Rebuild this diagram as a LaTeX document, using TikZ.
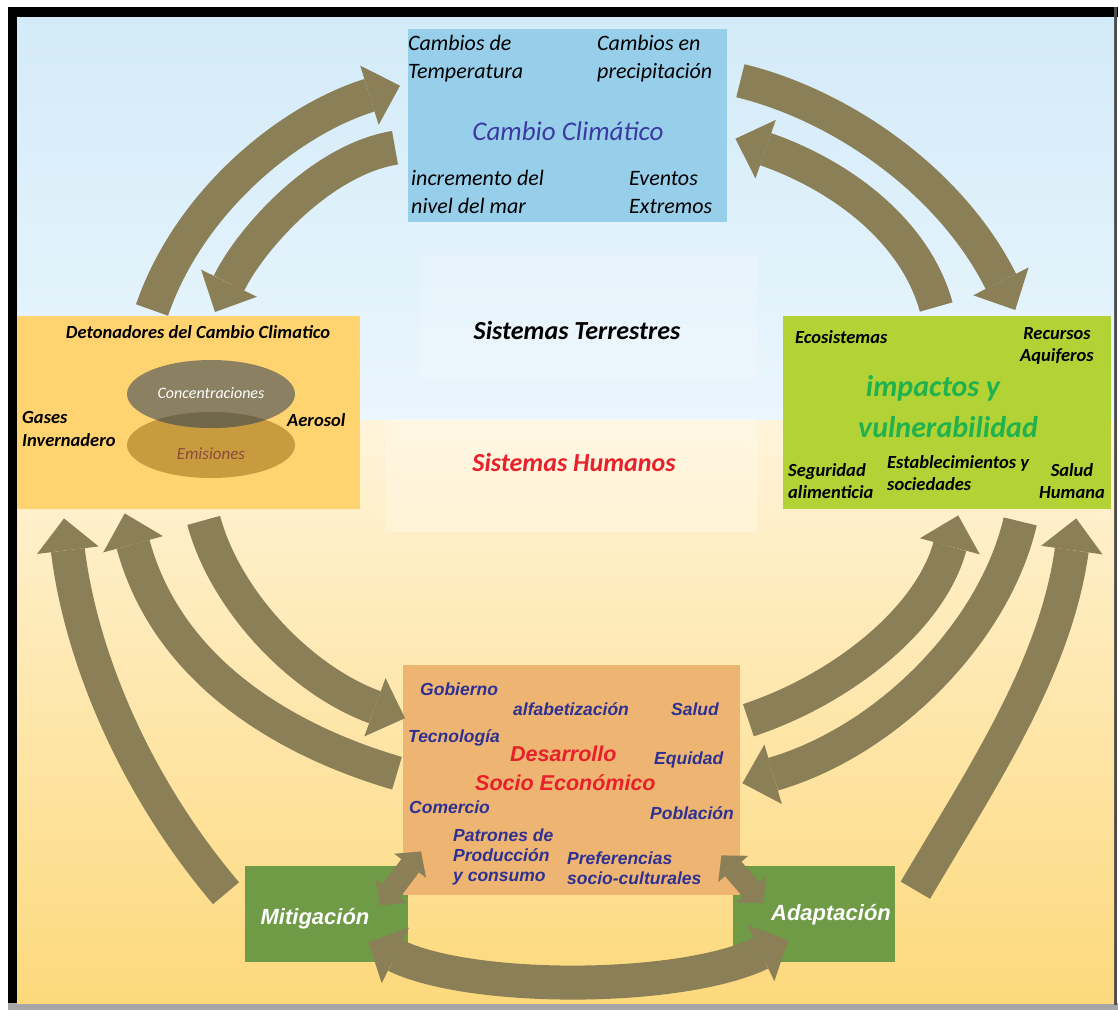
\documentclass[tikz,border=0pt]{standalone}
\usepackage{fontspec}
\setmainfont{Carlito}
\newfontfamily\arialf{Liberation Sans}
\usepackage{xcolor}
\usepackage{tikz}
\usetikzlibrary{calc,arrows.meta,shapes.geometric}
\definecolor{skytop}{HTML}{D3EBF8}
\definecolor{skylow}{HTML}{EAF6FD}
\definecolor{sandtop}{HTML}{FFF4DA}
\definecolor{sandlow}{HTML}{FDD97C}
\definecolor{climate}{HTML}{97CFEB}
\definecolor{driver}{HTML}{FFD470}
\definecolor{impact}{HTML}{B2D235}
\definecolor{socio}{HTML}{EDB472}
\definecolor{policy}{HTML}{6F9A46}
\definecolor{olive}{HTML}{8B7F57}
\definecolor{conc}{HTML}{8B8062}
\definecolor{emis}{HTML}{C89B3F}
\definecolor{overlap}{HTML}{716749}
\definecolor{emistext}{HTML}{8E4A3A}
\definecolor{titleblue}{HTML}{3A3AA0}
\definecolor{inkblue}{HTML}{2E3192}
\definecolor{inkred}{HTML}{E8202A}
\definecolor{inkgreen}{HTML}{20B24E}
\tikzset{
  box/.style={inner sep=0pt, anchor=north west},
  flow/.style={draw=olive, line width=34pt, -{Triangle[length=32pt,width=62pt,line width=0pt]}},
  flowboth/.style={draw=olive, line width=34pt, {Triangle[length=30pt,width=62pt,line width=0pt]}-{Triangle[length=30pt,width=62pt,line width=0pt]}},
  flowsmall/.style={draw=olive, line width=22pt, {Triangle[length=18pt,width=40pt,line width=0pt]}-{Triangle[length=18pt,width=40pt,line width=0pt]}},
  cal/.style={font=\itshape\fontsize{22}{28}\selectfont, align=left, inner sep=0pt},
  calb/.style={font=\bfseries\itshape\fontsize{18.5}{22.5}\selectfont, align=left, inner sep=0pt},
  ari/.style={font=\arialf\bfseries\itshape\fontsize{17.5}{20}\selectfont, text=inkblue, align=left, inner sep=0pt, anchor=west},
  arired/.style={ari, text=inkred, font=\arialf\bfseries\itshape\fontsize{21.5}{24}\selectfont}
}
\begin{document}
\begin{tikzpicture}[x=1pt,y=-1pt]
  \useasboundingbox (0,0) rectangle (1118,1010);
  % frame and background
  \fill[white] (0,0) rectangle (1118,1010);
  \fill[black] (8,7) rectangle (1118,17);
  \fill[black] (8,7) rectangle (17,1005);
  \fill[gray!70] (8,1003) rectangle (1118,1010);
  \fill[black!70] (1114,7) rectangle (1117,1005);
  \shade[top color=skytop, bottom color=skylow] (17,17) rectangle (1114,420);
  \shade[top color=sandtop, bottom color=sandlow] (17,420) rectangle (1114,1003);
  \fill[white, opacity=0.2] (420,255) rectangle (757,378);
  \fill[white, opacity=0.25] (385,418) rectangle (757,532);

  % boxes
  \node[box, fill=policy, minimum width=163pt, minimum height=96pt] (mitigacion) at (245,866) {};
  \node[box, fill=policy, minimum width=162pt, minimum height=96pt] (adaptacion) at (733,866) {};
  \node[box, fill=climate, minimum width=319pt, minimum height=193pt] (clima) at (408,29) {};
  \node[box, fill=driver, minimum width=343pt, minimum height=193pt] (detonadores) at (17,316) {};
  \node[box, fill=impact, minimum width=328pt, minimum height=193pt] (impactos) at (783,316) {};
  \node[box, fill=socio, minimum width=337pt, minimum height=230pt] (desarrollo) at (403,665) {};

  \node[ellipse, fill=emis, inner sep=0pt, minimum width=168pt, minimum height=66pt] (emisiones) at (211,445) {};
  \node[ellipse, fill=conc, inner sep=0pt, minimum width=168pt, minimum height=68pt] (concentraciones) at (211,394) {};
  \begin{scope}
    \clip (211,394) ellipse [x radius=84, y radius=34];
    \fill[overlap] (211,445) ellipse [x radius=84, y radius=33];
  \end{scope}

  % arrows
  \draw[flow] ($(detonadores.north west)+(135,-6)$) .. controls (190,200) and (290,120) .. ($(clima.west)+(-8,-40)$);
  \draw[flow] ($(clima.west)+(-13,22)$) .. controls (320,160) and (250,240) .. ($(detonadores.north west)+(198,-4)$);
  \draw[flow] ($(clima.east)+(13,-45)$) .. controls (840,105) and (950,180) .. ($(impactos.north)+(68,-6)$);
  \draw[flow] ($(impactos.north)+(-11,-9)$) .. controls (915,230) and (840,175) .. ($(clima.east)+(8,13)$);
  \draw[flow] ($(detonadores.south)+(15,11)$) .. controls (225,600) and (300,680) .. ($(desarrollo.west)+(2,-62)$);
  \draw[flow] ($(desarrollo.west)+(-6,-7)$) .. controls (300,745) and (170,680) .. ($(detonadores.south)+(-64,4)$);
  \draw[flow] ($(mitigacion.west)+(-19,-21)$) .. controls (130,780) and (80,650) .. ($(detonadores.south west)+(47,9)$);
  \draw[flow] ($(desarrollo.east)+(8,-60)$) .. controls (840,690) and (930,620) .. ($(impactos.south)+(11,6)$);
  \draw[flow] ($(impactos.south)+(73,12)$) .. controls (995,630) and (890,740) .. ($(desarrollo.east)+(2,3)$);
  \draw[flow] ($(adaptacion.east)+(20,-24)$) .. controls (980,780) and (1055,670) .. ($(impactos.south)+(129,9)$);
  \draw[flowboth] ($(mitigacion.east)+(-40,28)$) .. controls (470,992) and (680,992) .. ($(adaptacion.west)+(55,26)$);
  \draw[flowsmall] ($(mitigacion.east)+(-28,-9)$) -- ($(desarrollo.south west)+(18,-44)$);
  \draw[flowsmall] ($(desarrollo.south east)+(-19,-40)$) -- ($(adaptacion.north west)+(30,37)$);

  % Cambio Climatico
  \node[cal, anchor=west] (temperatura) at (408,59) {Cambios de\\Temperatura};
  \node[cal, anchor=west] (precipitacion) at (597,59) {Cambios en\\precipitación};
  \node[cal, text=titleblue, font=\itshape\fontsize{27}{30}\selectfont] (titclima) at (568,131) {Cambio Climático};
  \node[cal, anchor=west] (nivelmar) at (411,192) {incremento del\\nivel del mar};
  \node[cal, anchor=west] (eventos) at (629,193) {Eventos\\Extremos};

  % Detonadores
  \node[calb] (titdet) at (198,332) {Detonadores del Cambio Climatico};
  \node[calb, anchor=west] (gases) at (22,429) {Gases\\Invernadero};
  \node[calb, anchor=west] (aerosol) at (287,420) {Aerosol};
  \node[cal, text=white, font=\itshape\fontsize{16}{18}\selectfont] (txtconc) at ($(concentraciones)+(0,-1)$) {Concentraciones};
  \node[cal, text=emistext, font=\itshape\fontsize{17}{18}\selectfont] (txtemis) at ($(emisiones)+(0,9)$) {Emisiones};

  % Impactos
  \node[calb, anchor=west] (ecosis) at (795,337) {Ecosistemas};
  \node[calb, align=center] (recursos) at (1057,346) {Recursos\\Aquiferos};
  \node[cal, text=inkgreen, font=\bfseries\itshape\fontsize{30}{34}\selectfont] (impac) at (933,388) {impactos y};
  \node[cal, text=inkgreen, font=\bfseries\itshape\fontsize{30}{34}\selectfont] (vulner) at (948,427) {vulnerabilidad};
  \node[calb, anchor=west] (seguridad) at (788,481) {Seguridad\\alimenticia};
  \node[calb, anchor=west] (establec) at (887,473) {Establecimientos y\\sociedades};
  \node[calb, align=center] (saludh) at (1072,481) {Salud\\Humana};

  % Sistemas
  \node[cal, font=\bfseries\itshape\fontsize{26}{30}\selectfont] (terrestres) at (577,330) {Sistemas Terrestres};
  \node[cal, text=inkred, font=\bfseries\itshape\fontsize{26}{30}\selectfont] (humanos) at (574,462) {Sistemas Humanos};

  % Desarrollo Socio Economico
  \node[ari] (gobierno) at (420,689) {Gobierno};
  \node[ari] (alfabet) at (513,709) {alfabetización};
  \node[ari] (salud) at (671,709) {Salud};
  \node[ari] (tecno) at (408,738) {Tecnología};
  \node[arired] (desarr) at (510,754) {Desarrollo};
  \node[ari] (equidad) at (654,760) {Equidad};
  \node[arired] (socioec) at (475,783) {Socio Económico};
  \node[ari] (comercio) at (409,807) {Comercio};
  \node[ari] (poblacion) at (650,813) {Población};
  \node[ari] (patrones) at (453,857) {Patrones de\\Producción\\y consumo};
  \node[ari] (preferen) at (567,868) {Preferencias\\socio-culturales};

  % Mitigacion / Adaptacion
  \node[ari, anchor=center, text=white, font=\arialf\bfseries\itshape\fontsize{22}{24}\selectfont] (txtmitig) at (315,919) {Mitigación};
  \node[ari, anchor=center, text=white, font=\arialf\bfseries\itshape\fontsize{22}{24}\selectfont] (txtadapt) at (831,915) {Adaptación};
\end{tikzpicture}
\end{document}
